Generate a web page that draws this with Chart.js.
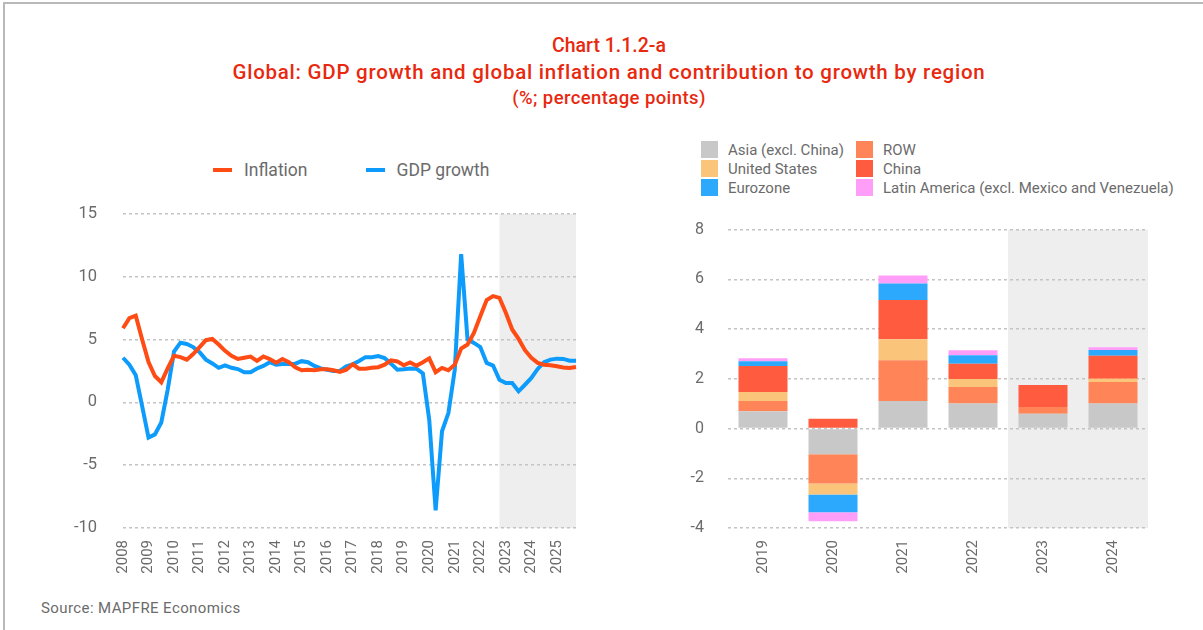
<!DOCTYPE html>
<html>
<head>
<meta charset="utf-8">
<title>Global: GDP growth and global inflation</title>
<script src="https://cdn.jsdelivr.net/npm/chart.js@4.4.1/dist/chart.umd.min.js"></script>
<style>
  body { margin: 0; background: #fff; font-family: Roboto, 'Noto Sans', sans-serif; }
  #page { position: relative; width: 1203px; height: 630px; overflow: hidden; }
  #frame { position: absolute; left: 3px; top: 2px; right: -5px; bottom: -5px; border-top: 2px solid #b9b9b9; border-left: 2px solid #b9b9b9; }
  .title { position: absolute; left: 0; width: 1218px; text-align: center; color: #e8290f; font-weight: 500; white-space: nowrap; }
  #t1 { top: 34px; font-size: 19.5px; }
  #t2 { top: 60px; font-size: 20.5px; letter-spacing: 0.75px; }
  #t3 { top: 87px; font-size: 18.5px; letter-spacing: 0.4px; }
  canvas { position: absolute; }
  #lineChart { left: 40px; top: 178px; }
  #barChart { left: 686px; top: 196px; }
  .legend { position: absolute; color: #6b6b6b; white-space: nowrap; }
  #lineLegend { left: 213px; top: 160px; font-size: 17.5px; display: flex; }
  #lineLegend .item { display: flex; align-items: center; }
  #lineLegend .mark { width: 19px; height: 4px; margin-right: 12px; }
  #barLegend { left: 701px; top: 141px; font-size: 15px; display: grid; grid-template-columns: 155px auto; row-gap: 2px; }
  #barLegend .item { display: flex; align-items: center; height: 17px; }
  #barLegend .mark { width: 17px; height: 17px; margin-right: 10px; }
  #source { position: absolute; left: 41px; top: 599px; font-size: 15px; letter-spacing: 0.4px; color: #6b6b6b; }
</style>
</head>
<body>
<div id="page">
  <div id="frame"></div>
  <div class="title" id="t1">Chart 1.1.2-a</div>
  <div class="title" id="t2">Global: GDP growth and global inflation and contribution to growth by region</div>
  <div class="title" id="t3">(%; percentage points)</div>

  <div class="legend" id="lineLegend"></div>
  <canvas id="lineChart" width="558" height="402"></canvas>

  <div class="legend" id="barLegend"></div>
  <canvas id="barChart" width="484" height="394"></canvas>

  <div id="source">Source: MAPFRE Economics</div>
</div>

<script>
// Quarterly series, 2008Q1 - 2025Q4 (year-on-year %)
const years = [2008, 2009, 2010, 2011, 2012, 2013, 2014, 2015, 2016, 2017, 2018, 2019, 2020, 2021, 2022, 2023, 2024, 2025];
const quarterLabels = [];
years.forEach(y => { for (let q = 1; q <= 4; q++) quarterLabels.push(y + 'Q' + q); });
const forecastFrom = '2022Q4';

const inflation = [
  5.9, 6.7, 6.9, 5.0, 3.2, 2.1, 1.6, 2.7, 3.7, 3.6, 3.4, 3.85,
  4.4, 4.95, 5.05, 4.6, 4.1, 3.7, 3.45, 3.55, 3.65, 3.3, 3.65, 3.45,
  3.15, 3.45, 3.2, 2.8, 2.55, 2.6, 2.55, 2.63, 2.63, 2.55, 2.42, 2.6,
  3.03, 2.68, 2.68, 2.76, 2.8, 3.0, 3.34, 3.26, 2.95, 3.17, 2.92, 3.2,
  3.5, 2.4, 2.74, 2.55, 3.0, 4.28, 4.6, 5.53, 6.86, 8.14, 8.46, 8.32,
  7.13, 5.8, 5.05, 4.15, 3.54, 3.14, 3.0, 2.95, 2.87, 2.77, 2.74, 2.82
];
const gdpGrowth = [
  3.55, 3.0, 2.15, -0.3, -2.8, -2.55, -1.6, 1.0, 4.05, 4.75, 4.65, 4.4,
  4.0, 3.4, 3.1, 2.75, 2.95, 2.75, 2.65, 2.4, 2.4, 2.7, 2.9, 3.2,
  3.0, 3.05, 3.05, 3.08, 3.28, 3.2, 2.9, 2.7, 2.6, 2.5, 2.5, 2.87,
  3.03, 3.29, 3.6, 3.6, 3.68, 3.53, 3.08, 2.6, 2.63, 2.7, 2.68, 2.3,
  -1.4, -8.6, -2.3, -0.85, 2.6, 11.8, 5.0, 4.73, 4.4, 3.14, 2.93, 1.8,
  1.54, 1.54, 0.88, 1.4, 1.94, 2.66, 3.2, 3.4, 3.48, 3.46, 3.32, 3.32
];

// Contribution to growth by region (percentage points)
const regionYears = ['2019', '2020', '2021', '2022', '2023', '2024'];
const regionForecastFrom = '2023';
const asiaExChina  = [0.70, -1.03, 1.11, 1.01, 0.59, 1.01];
const restOfWorld  = [0.41, -1.18, 1.64, 0.66, 0.28, 0.86];
const unitedStates = [0.36, -0.44, 0.84, 0.32, 0.00, 0.13];
const china        = [1.04, 0.39, 1.58, 0.62, 0.88, 0.93];
const eurozone     = [0.20, -0.72, 0.66, 0.34, 0.00, 0.23];
const latinAmerica = [0.12, -0.36, 0.32, 0.20, 0.00, 0.11];

const tickColor = '#6b6b6b';
const gridColor = '#c4c4c4';

// Grey band behind the forecast period
function forecastShade(startPixel) {
    return {
        id: 'forecastShade',
        beforeDraw(chart) {
            const { ctx, chartArea: a } = chart;
            const x0 = startPixel(chart.scales.x);
            ctx.save();
            ctx.fillStyle = '#eeeeee';
            ctx.fillRect(x0, a.top, a.right - x0, a.bottom - a.top);
            ctx.restore();
        }
    };
}

function buildLegend(el, chart) {
    chart.data.datasets.forEach(ds => {
        const item = document.createElement('div');
        item.className = 'item';
        const mark = document.createElement('span');
        mark.className = 'mark';
        mark.style.background = chart.config.type === 'line' ? ds.borderColor : ds.backgroundColor;
        const text = document.createElement('span');
        text.innerText = ds.label;
        item.appendChild(mark);
        item.appendChild(text);
        el.appendChild(item);
    });
}

// Left: inflation and GDP growth
const lineChart = new Chart(document.getElementById('lineChart'), {
    type: 'line',
    data: {
        labels: quarterLabels,
        datasets: [{
            label: 'Inflation',
            data: inflation,
            borderColor: '#ff4b14',
            borderWidth: 4,
            pointRadius: 0,
            tension: 0
        }, {
            label: 'GDP growth',
            data: gdpGrowth,
            borderColor: '#0d9cfb',
            borderWidth: 4,
            pointRadius: 0,
            tension: 0
        }]
    },
    options: {
        responsive: false,
        animation: false,
        layout: { padding: { top: 10, right: 14 } },
        plugins: { legend: { display: false }, tooltip: { enabled: false } },
        scales: {
            x: {
                grid: { display: false },
                border: { display: false },
                ticks: {
                    autoSkip: false,
                    minRotation: 90,
                    maxRotation: 90,
                    padding: 4,
                    color: tickColor,
                    font: { family: 'Roboto', size: 15 },
                    callback: (v, i) => quarterLabels[i].endsWith('Q1') ? quarterLabels[i].slice(0, 4) : ''
                },
                afterFit: s => { s.height = 52; }
            },
            y: {
                min: -10,
                max: 15,
                ticks: { stepSize: 5, padding: 26, color: tickColor, font: { family: 'Roboto', size: 16.5 } },
                grid: { color: gridColor, lineWidth: 1.5, drawTicks: false },
                border: { display: false, dash: [3, 3] },
                afterFit: s => { s.width = 83; }
            }
        }
    },
    plugins: [forecastShade(s => s.getPixelForValue(quarterLabels.indexOf(forecastFrom)))]
});
buildLegend(document.getElementById('lineLegend'), lineChart);
document.querySelectorAll('#lineLegend .item')[1].style.marginLeft = '58px';

// Right: stacked contributions by region
const barChart = new Chart(document.getElementById('barChart'), {
    type: 'bar',
    data: {
        labels: regionYears,
        datasets: [
            { label: 'Asia (excl. China)', data: asiaExChina, backgroundColor: '#c8c8c8' },
            { label: 'ROW', data: restOfWorld, backgroundColor: '#ff8457' },
            { label: 'United States', data: unitedStates, backgroundColor: '#fac57b' },
            { label: 'China', data: china, backgroundColor: '#ff5b3f' },
            { label: 'Eurozone', data: eurozone, backgroundColor: '#2ca9fd' },
            { label: 'Latin America (excl. Mexico and Venezuela)', data: latinAmerica, backgroundColor: '#ff9ef8' }
        ]
    },
    options: {
        responsive: false,
        animation: false,
        datasets: { bar: { categoryPercentage: 1, barPercentage: 0.7 } },
        layout: { padding: { top: 14, right: 22 } },
        plugins: { legend: { display: false }, tooltip: { enabled: false } },
        scales: {
            x: {
                stacked: true,
                grid: { display: false },
                border: { display: false },
                ticks: {
                    minRotation: 90,
                    maxRotation: 90,
                    padding: 4,
                    color: tickColor,
                    font: { family: 'Roboto', size: 15 }
                },
                afterFit: s => { s.height = 62; }
            },
            y: {
                stacked: true,
                min: -4,
                max: 8,
                ticks: { stepSize: 2, padding: 24, color: tickColor, font: { family: 'Roboto', size: 16 } },
                grid: { color: gridColor, lineWidth: 1.5, drawTicks: false },
                border: { display: false, dash: [3, 3] },
                afterFit: s => { s.width = 42; }
            }
        }
    },
    plugins: [forecastShade(s => {
        const i = regionYears.indexOf(regionForecastFrom);
        return (s.getPixelForValue(i - 1) + s.getPixelForValue(i)) / 2;
    })]
});
buildLegend(document.getElementById('barLegend'), barChart);
</script>
</body>
</html>
